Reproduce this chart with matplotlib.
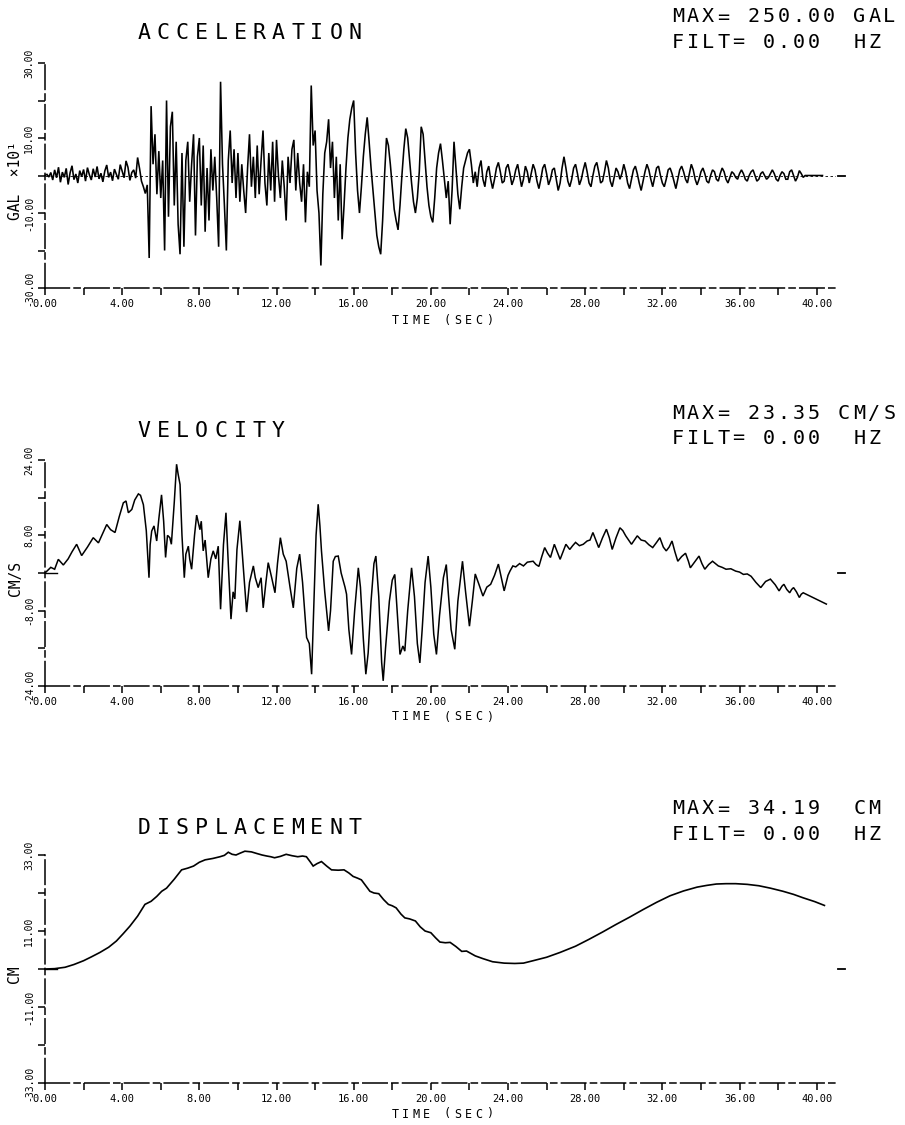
import numpy as np
import matplotlib
matplotlib.use("Agg")
import matplotlib.pyplot as plt

plt.rcParams["font.family"] = ["DejaVu Sans Mono", "DejaVu Sans"]

# ─────────────────────────────────────────────
# Data
# ─────────────────────────────────────────────
# acceleration in GAL x10, one sample every 0.1 s
accel_dt = 0.1
accel = [
    0.0, 0.3, -0.4, 0.8, -1.2, 1.5, -0.6, 2.2, -1.8, 0.9,
    -0.5, 1.9, -2.4, 0.7, 2.6, -1.1, 0.4, -2.0, 1.3, -0.3,
    1.6, -1.5, 2.1, 0.2, -1.2, 1.8, -0.4, 2.4, -0.9, 0.6,
    -1.7, 1.2, 2.8, -0.5, 0.9, -1.4, 1.7, 0.3, -1.0, 2.9,
    1.1, -0.6, 3.9, 2.2, -1.3, 0.8, 1.5, -0.7, 4.8, 1.9,
    -1.5, -3.0, -4.8, -2.5, -22.0, 18.5, 3.0, 11.0, -5.0, 6.5,
    -6.0, 4.0, -20.0, 20.0, -11.0, 13.0, 17.0, -8.0, 9.0, -13.0,
    -21.0, 6.0, -19.0, 4.0, 9.0, -7.0, 3.0, 11.0, -16.0, 5.0,
    10.0, -8.0, 8.0, -15.0, 2.0, -12.0, 7.0, -4.0, 5.0, -6.0,
    -19.0, 25.0, 3.0, -8.0, -20.0, 4.0, 12.0, -2.0, 7.0, -6.0,
    6.0, -7.0, 3.0, -4.0, -10.0, 2.0, 11.0, -3.0, 5.0, -6.0,
    8.0, -5.0, 4.0, 12.0, -2.0, -8.0, 6.0, -4.0, 9.0, -7.0,
    9.5, 0.0, -6.0, 4.0, -3.0, -12.0, 5.0, -2.0, 7.0, 9.5,
    -4.0, 6.0, -2.0, -7.0, 3.0, -12.5, 1.0, -3.0, 24.0, 8.0,
    12.0, -4.0, -10.0, -24.0, -5.0, 6.0, 9.0, 15.0, 2.0, 9.0,
    -6.0, 5.0, -12.0, 3.0, -17.0, -8.0, 2.0, 10.0, 15.0, 18.0,
    20.0, 6.0, -4.0, -10.0, -3.0, 5.0, 11.0, 15.5, 9.0, 2.0,
    -4.0, -10.0, -16.0, -19.0, -21.0, -12.0, 0.0, 10.0, 8.0, 3.0,
    -3.0, -9.0, -12.0, -14.5, -8.0, 0.0, 7.0, 12.5, 10.0, 4.0,
    -2.0, -7.0, -10.0, -6.0, 1.0, 13.0, 11.0, 4.0, -3.0, -8.0,
    -11.0, -12.5, -6.0, 2.0, 6.0, 8.5, 4.0, -1.0, -6.0, -1.5,
    -13.0, -4.0, 9.0, 2.0, -5.0, -9.0, -3.0, 2.0, 4.0, 6.0,
    7.0, 3.0, -2.0, 1.0, -3.0, 2.0, 4.0, -1.0, -3.0, 1.0,
    2.5, -1.0, -3.5, -1.0, 2.0, 3.5, 1.0, -2.0, -1.5, 2.0,
    3.0, 0.5, -2.5, -1.0, 1.5, 3.0, 0.0, -3.0, -1.0, 2.5,
    1.0, -2.0, 0.5, 3.0, 1.5, -1.5, -3.5, -1.0, 2.0, 3.0,
    0.5, -2.5, -1.0, 1.5, 2.0, -1.0, -4.0, -2.0, 2.0, 5.0,
    2.0, -1.5, -3.0, -1.0, 2.0, 3.0, 0.5, -2.5, -1.0, 1.5,
    3.5, 1.0, -2.0, -3.0, 0.0, 2.5, 3.5, 1.0, -2.0, -1.5,
    1.0, 4.0, 2.0, -1.5, -3.0, -0.5, 2.0, 1.0, -1.0, 0.5,
    3.0, 1.0, -2.0, -3.5, -1.0, 1.5, 2.5, 0.5, -2.0, -4.0,
    -1.5, 1.0, 3.0, 1.5, -1.0, -3.0, -0.5, 2.0, 2.5, 0.0,
    -2.0, -3.0, -1.0, 1.5, 2.0, 0.5, -1.5, -3.5, -1.0, 1.5,
    2.5, 1.0, -1.0, -2.0, 0.5, 3.0, 1.5, -1.0, -2.5, -1.0,
    1.0, 2.0, 0.5, -1.5, -2.0, 0.0, 1.5, 1.0, -1.0, -1.5,
    0.5, 2.0, 1.0, -1.0, -2.0, -0.5, 1.0, 0.5, -0.5, -1.0,
    0.5, 1.5, 0.5, -1.0, -1.5, 0.0, 1.0, 1.5, 0.0, -1.5,
    -1.0, 0.5, 1.0, 0.0, -1.0, -0.5, 0.5, 1.5, 0.5, -1.0,
    -1.5, 0.0, 1.0, 0.5, -1.0, -1.0, 1.0, 1.5, 0.0, -1.5,
    -0.5, 1.3, 0.5, -0.5, 0.0, 0.0, 0.0, 0.0, 0.0, 0.0,
    0.0, 0.0, 0.0, 0.0,
]

# velocity (cm/s)
vel_t = [
    0.0, 0.3, 0.5, 0.69, 0.95, 1.2, 1.4, 1.64, 1.9, 2.2,
    2.5, 2.77, 3.0, 3.2, 3.4, 3.63, 3.85, 4.06, 4.2, 4.32,
    4.5, 4.65, 4.84, 4.95, 5.1, 5.25, 5.39, 5.45, 5.53, 5.65,
    5.79, 5.9, 6.04, 6.15, 6.25, 6.35, 6.47, 6.55, 6.7, 6.82,
    6.9, 7.0, 7.1, 7.22, 7.3, 7.43, 7.5, 7.6, 7.75, 7.86,
    8.03, 8.1, 8.2, 8.3, 8.46, 8.6, 8.72, 8.85, 8.98, 9.1,
    9.25, 9.38, 9.5, 9.64, 9.75, 9.84, 9.95, 10.1, 10.3, 10.45,
    10.6, 10.8, 10.9, 11.05, 11.2, 11.31, 11.45, 11.57, 11.75, 11.92,
    12.05, 12.2, 12.35, 12.5, 12.7, 12.87, 13.05, 13.2, 13.35, 13.56,
    13.7, 13.82, 13.95, 14.05, 14.16, 14.25, 14.33, 14.5, 14.7, 14.8,
    14.94, 15.05, 15.2, 15.35, 15.46, 15.55, 15.63, 15.75, 15.89, 16.05,
    16.24, 16.35, 16.5, 16.63, 16.75, 16.9, 17.05, 17.15, 17.3, 17.45,
    17.53, 17.65, 17.85, 18.0, 18.13, 18.25, 18.4, 18.55, 18.65, 18.8,
    19.0, 19.15, 19.3, 19.43, 19.55, 19.7, 19.86, 20.0, 20.15, 20.29,
    20.45, 20.65, 20.8, 20.9, 21.05, 21.24, 21.4, 21.64, 21.8, 22.0,
    22.15, 22.3, 22.5, 22.7, 22.9, 23.1, 23.3, 23.5, 23.65, 23.8,
    24.0, 24.1, 24.25, 24.4, 24.6, 24.8, 25.0, 25.3, 25.45, 25.6,
    25.75, 25.9, 26.05, 26.2, 26.4, 26.55, 26.7, 26.85, 27.0, 27.2,
    27.35, 27.5, 27.7, 27.9, 28.1, 28.25, 28.4, 28.55, 28.7, 28.9,
    29.1, 29.25, 29.4, 29.6, 29.8, 29.95, 30.1, 30.25, 30.4, 30.55,
    30.7, 30.9, 31.1, 31.3, 31.5, 31.7, 31.87, 32.05, 32.2, 32.35,
    32.5, 32.65, 32.8, 33.0, 33.2, 33.35, 33.45, 33.7, 33.9, 34.05,
    34.2, 34.4, 34.6, 34.9, 35.1, 35.3, 35.55, 35.8, 36.0, 36.2,
    36.4, 36.6, 36.85, 37.1, 37.35, 37.6, 37.85, 38.05, 38.2, 38.3,
    38.45, 38.6, 38.7, 38.8, 38.95, 39.1, 39.2, 39.3, 39.6, 40.0,
    40.3, 40.5,
]
vel_v = [
    0.0, 1.2, 0.8, 2.9, 1.7, 3.0, 4.5, 6.1, 3.7, 5.5,
    7.5, 6.4, 8.5, 10.3, 9.2, 8.6, 12.0, 14.9, 15.3, 12.8,
    13.5, 15.5, 16.8, 16.5, 14.5, 9.0, -1.0, 6.0, 8.9, 10.0,
    6.8, 11.5, 16.6, 11.0, 3.3, 8.0, 7.5, 6.1, 15.0, 23.1,
    21.0, 18.8, 8.0, -1.0, 4.0, 5.7, 3.0, 0.8, 8.0, 12.3,
    9.2, 11.0, 4.7, 7.0, -1.0, 3.0, 4.7, 3.0, 5.7, -7.7,
    6.0, 12.8, 2.0, -9.8, -4.0, -5.5, 5.0, 11.1, 0.0, -8.3,
    -2.0, 1.5, -1.0, -3.1, -1.0, -7.4, -2.0, 2.2, -1.0, -4.2,
    2.0, 7.5, 4.0, 2.5, -3.0, -7.4, 1.0, 4.0, -2.0, -13.7,
    -15.0, -21.5, -5.0, 8.0, 14.6, 10.0, 4.7, -4.0, -12.3, -8.0,
    2.5, 3.5, 3.6, 0.0, -1.7, -3.0, -4.5, -12.0, -17.3, -8.0,
    1.1, -3.0, -14.0, -21.5, -17.0, -6.0, 2.0, 3.6, -5.0, -19.0,
    -22.9, -16.0, -6.0, -1.5, -0.3, -8.0, -17.3, -15.5, -16.6, -8.0,
    1.1, -5.0, -15.0, -19.1, -12.0, -2.0, 3.6, -3.0, -13.0, -17.3,
    -9.0, -1.0, 1.8, -4.0, -12.0, -16.2, -6.0, 2.5, -4.0, -11.3,
    -6.0, -0.2, -2.5, -4.9, -3.0, -2.4, -0.5, 1.9, -1.0, -3.8,
    -0.5, 0.4, 1.5, 1.3, 2.0, 1.5, 2.3, 2.5, 1.8, 1.4,
    3.5, 5.4, 4.2, 3.3, 6.1, 4.5, 2.9, 4.5, 6.1, 5.0,
    5.8, 6.5, 5.8, 6.1, 6.8, 7.0, 8.6, 7.0, 5.4, 7.5,
    9.3, 7.5, 5.0, 7.5, 9.6, 9.0, 7.9, 7.0, 6.1, 7.0,
    7.9, 7.0, 6.8, 6.0, 5.4, 6.5, 7.5, 5.5, 4.7, 5.5,
    6.8, 4.5, 2.5, 3.5, 4.2, 2.5, 1.1, 2.5, 3.6, 2.0,
    0.8, 1.8, 2.5, 1.5, 1.2, 0.8, 0.9, 0.4, 0.2, -0.3,
    -0.2, -0.7, -2.0, -3.1, -1.8, -1.3, -2.5, -3.8, -2.8, -2.4,
    -3.5, -4.2, -3.5, -3.1, -4.0, -5.2, -4.5, -4.2, -4.8, -5.6,
    -6.2, -6.6,
]

# displacement (cm)
disp_t = [
    0.0, 0.5, 1.04, 1.5, 2.0, 2.4, 2.85, 3.3, 3.7, 4.05,
    4.4, 4.8, 5.18, 5.5, 5.79, 6.05, 6.3, 6.7, 7.08, 7.4,
    7.7, 8.0, 8.3, 8.7, 9.07, 9.3, 9.5, 9.7, 9.9, 10.1,
    10.36, 10.7, 11.0, 11.25, 11.5, 11.7, 11.9, 12.2, 12.5, 12.8,
    13.1, 13.35, 13.55, 13.75, 13.9, 14.1, 14.33, 14.6, 14.85, 15.2,
    15.5, 15.75, 15.97, 16.2, 16.4, 16.6, 16.84, 17.05, 17.3, 17.55,
    17.8, 18.0, 18.2, 18.45, 18.65, 18.9, 19.2, 19.45, 19.7, 20.0,
    20.25, 20.47, 20.75, 21.0, 21.3, 21.6, 21.85, 22.3, 22.7, 23.2,
    23.8, 24.35, 24.8, 25.3, 26.0, 26.7, 27.5, 28.2, 28.9, 29.6,
    30.3, 31.0, 31.7, 32.4, 33.1, 33.8, 34.3, 34.8, 35.3, 35.8,
    36.4, 37.0, 37.6, 38.25, 38.8, 39.3, 39.9, 40.4,
]
disp_v = [
    0.0, 0.1, 0.5, 1.3, 2.4, 3.5, 4.8, 6.3, 8.1, 10.2,
    12.4, 15.3, 18.7, 19.6, 21.0, 22.5, 23.4, 26.0, 28.7, 29.2,
    29.8, 30.9, 31.6, 32.0, 32.5, 32.9, 33.8, 33.2, 33.0, 33.5,
    34.1, 33.9, 33.4, 33.0, 32.7, 32.5, 32.2, 32.6, 33.2, 32.8,
    32.5, 32.7, 32.5, 31.0, 29.8, 30.5, 31.1, 29.8, 28.7, 28.6,
    28.7, 27.8, 26.8, 26.3, 25.8, 24.3, 22.5, 22.0, 21.8, 20.1,
    18.7, 18.3, 17.7, 15.9, 14.8, 14.5, 13.9, 12.2, 11.0, 10.5,
    9.0, 7.8, 7.6, 7.7, 6.5, 5.1, 5.2, 3.8, 3.0, 2.1,
    1.7, 1.6, 1.7, 2.4, 3.4, 4.8, 6.6, 8.6, 10.7, 12.9,
    15.0, 17.2, 19.3, 21.2, 22.6, 23.7, 24.2, 24.6, 24.7, 24.7,
    24.5, 24.1, 23.4, 22.5, 21.6, 20.6, 19.5, 18.4,
]

titles = ["ACCELERATION", "VELOCITY", "DISPLACEMENT"]
max_lines = ["MAX= 250.00 GAL", "MAX= 23.35 CM/S", "MAX= 34.19  CM"]
filt_line = "FILT= 0.00  HZ"
ylabels = ["GAL  \u00d710\u00b9", "CM/S", "CM"]
ysteps = [10, 8, 11]
x_ticks = np.arange(0, 41, 2)

# ─────────────────────────────────────────────
# Layout (pixel based)
# ─────────────────────────────────────────────
W, H = 905, 1125
fig = plt.figure(figsize=(W / 100, H / 100), dpi=100)

X0, X1 = 45, 836
tops = [63, 460, 855]
bottoms = [288, 686, 1083]
head_y = [(17, 42, 33), (413, 438, 431), (809, 834, 828)]
time_y = [320, 717, 1114]


def spaced(x, y, s, pitch, size):
    # plotter style lettering: every character on a fixed pitch
    for i, ch in enumerate(s):
        if ch != " ":
            fig.text((x + i * pitch) / W, 1 - y / H, ch, ha="center",
                     va="center", fontsize=size, color="black")


series = [
    (np.arange(len(accel)) * accel_dt, np.array(accel), 1.15),
    (np.array(vel_t), np.array(vel_v), 1.1),
    (np.array(disp_t), np.array(disp_v), 1.2),
]

for k in range(3):
    top, bot = tops[k], bottoms[k]
    ax = fig.add_axes([X0 / W, 1 - bot / H, (X1 - X0) / W, (bot - top) / H])
    step = ysteps[k]
    ymax = 3 * step
    t, v, lw = series[k]

    ax.plot(t, v, color="black", lw=lw, solid_joinstyle="miter", clip_on=False)
    if k == 0:
        ax.axhline(0, color="black", lw=0.6, ls=(0, (3, 3)))
    else:
        ax.plot([0, 0.6], [0, 0], color="black", lw=1.0)
    # little end marker to the right of the record
    ax.plot([41.1, 41.45], [0, 0], color="black", lw=1.3, clip_on=False)

    ax.set_xlim(0, 41.0)
    ax.set_ylim(-ymax, ymax)
    for s in ["top", "right"]:
        ax.spines[s].set_visible(False)
    for s in ["left", "bottom"]:
        ax.spines[s].set_linewidth(1.1)
        ax.spines[s].set_linestyle((0, (16, 3, 4, 3)))

    ax.set_xticks(x_ticks)
    ax.set_xticklabels([f"{x:.2f}" if x % 4 == 0 else "" for x in x_ticks],
                       fontsize=7.5)
    yt = np.arange(-3, 4) * step
    ax.set_yticks(yt)
    ax.set_yticklabels([f"{y:.2f}" if (abs(y) // step) % 2 == 1 else ""
                        for y in yt], fontsize=7, rotation=90, va="center")
    ax.tick_params(direction="out", length=5, width=1.1, pad=3)

    # headers
    hy_max, hy_filt, hy_title = head_y[k]
    spaced(144, hy_title, titles[k], 19.2, 15.5)
    spaced(678, hy_max, max_lines[k], 15.1, 14.5)
    spaced(678, hy_filt, filt_line, 15.1, 14.5)

    # axis names
    spaced(395, time_y[k], "TIME (SEC)", 10.5, 8.5)
    fig.text(15 / W, 1 - ((top + bot) / 2 + 5) / H, ylabels[k], rotation=90,
             ha="center", va="center", fontsize=10.5)

fig.savefig("out.png", dpi=100, facecolor="white")
